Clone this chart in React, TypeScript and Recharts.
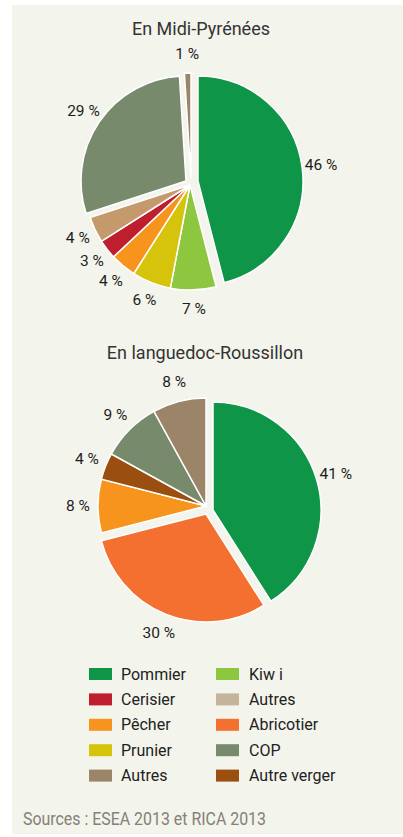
import React from 'react';
import { PieChart, Pie, Cell } from 'recharts';

// Midi-Pyrénées (clockwise from 12 o'clock)
const midiNames = ['Pommier', 'Kiwi', 'Prunier', 'Pêcher', 'Cerisier', 'Autres', 'COP', 'Autres'];
const midiValues = [46, 7, 6, 4, 3, 4, 29, 1];
const midiColors = ['#0e9548', '#8dc63f', '#d6c30b', '#f7941d', '#be1e2d', '#c49a6c', '#778a6c', '#9c8469'];

// Languedoc-Roussillon
const lrNames = ['Pommier', 'Abricotier', 'Pêcher', 'Autre verger', 'COP', 'Autres'];
const lrValues = [41, 30, 8, 4, 9, 8];
const lrColors = ['#0e9548', '#f37030', '#f7941d', '#9a4f10', '#778a6c', '#9c8469'];

// legend
const legendLeft = ['Pommier', 'Cerisier', 'Pêcher', 'Prunier', 'Autres'];
const legendLeftColors = ['#0e9548', '#be1e2d', '#f7941d', '#d6c30b', '#9c8469'];
const legendRight = ['Kiw i', 'Autres', 'Abricotier', 'COP', 'Autre verger'];
const legendRightColors = ['#8dc63f', '#c5b49b', '#f37030', '#778a6c', '#9a4f10'];

const midiData = midiNames.map((name, i) => ({ name, value: midiValues[i] }));
const lrData = lrNames.map((name, i) => ({ name, value: lrValues[i] }));

// slice offsets (exploded pieces), in px
const midiOffsets = [[8, -4], [0, 0], [0, 0], [0, 0], [0, 0], [0, 0], [-4, -4], [1, -7]];
const lrOffsets = [[7, 4], [0, 8], [0, 0], [0, 0], [0, 0], [0, 0]];

const RAD = Math.PI / 180;
const FONT = 'Roboto, sans-serif';

const makeLabel = (idx: number, gap: number) => (p: any) => {
  if (p.index !== idx) return null;
  const r = p.outerRadius + gap;
  const x = p.cx + r * Math.cos(-p.midAngle * RAD);
  const y = p.cy + r * Math.sin(-p.midAngle * RAD);
  return (
    <text x={x} y={y} textAnchor="middle" dominantBaseline="central" fill="#1f1c1d" fontSize={15.5} fontFamily={FONT}>
      {`${p.value} %`}
    </text>
  );
};

function renderPies(key: string, data: any[], colors: string[], offsets: number[][], cx: number, cy: number, r: number, gap: number) {
  return data.map((_, i) => (
    <Pie
      key={`${key}-${i}`}
      data={data}
      dataKey="value"
      cx={cx + offsets[i][0]}
      cy={cy + offsets[i][1]}
      outerRadius={r}
      startAngle={90}
      endAngle={-270}
      isAnimationActive={false}
      labelLine={false}
      label={makeLabel(i, gap)}
    >
      {data.map((d, j) => (
        <Cell
          key={d.name + j}
          fill={j === i ? colors[j] : 'none'}
          stroke={j === i ? '#ffffff' : 'none'}
          strokeWidth={1.5}
        />
      ))}
    </Pie>
  ));
}

export default function App() {
  return (
    <div style={{ position: 'absolute', left: 0, top: 0, width: 403, height: 837 }}>
      <div style={{ position: 'absolute', left: 12, top: 5, width: 391, height: 829, background: '#f3f4ec' }} />
      <div style={{ position: 'absolute', left: 0, top: 0 }}>
        <PieChart width={403} height={660} margin={{ top: 0, right: 0, bottom: 0, left: 0 }}>
          {renderPies('midi', midiData, midiColors, midiOffsets, 190, 185, 105, 19)}
          {renderPies('lr', lrData, lrColors, lrOffsets, 206, 506, 108, 20)}
        </PieChart>
      </div>
      <svg width={403} height={837} style={{ position: 'absolute', left: 0, top: 0, pointerEvents: 'none' }}>
        <text x={201} y={35} textAnchor="middle" fontSize={18} fontFamily={FONT} fill="#333">En Midi-Pyrénées</text>
        <text x={205} y={359} textAnchor="middle" fontSize={18} fontFamily={FONT} fill="#333">En languedoc-Roussillon</text>
        {legendLeft.map((n, i) => (
          <g key={'l' + i}>
            <rect x={89} y={668 + i * 25.4} width={23} height={12} fill={legendLeftColors[i]} />
            <text x={121} y={679.5 + i * 25.4} fontSize={16} fontFamily={FONT} fill="#222">{n}</text>
          </g>
        ))}
        {legendRight.map((n, i) => (
          <g key={'r' + i}>
            <rect x={216} y={668 + i * 25.4} width={23} height={12} fill={legendRightColors[i]} />
            <text x={249} y={679.5 + i * 25.4} fontSize={16} fontFamily={FONT} fill="#222">{n}</text>
          </g>
        ))}
        <text x={23} y={825} fontSize={18} fontFamily={FONT} fill="#858079" textLength={243} lengthAdjust="spacingAndGlyphs">
          Sources : ESEA 2013 et RICA 2013
        </text>
      </svg>
    </div>
  );
}
